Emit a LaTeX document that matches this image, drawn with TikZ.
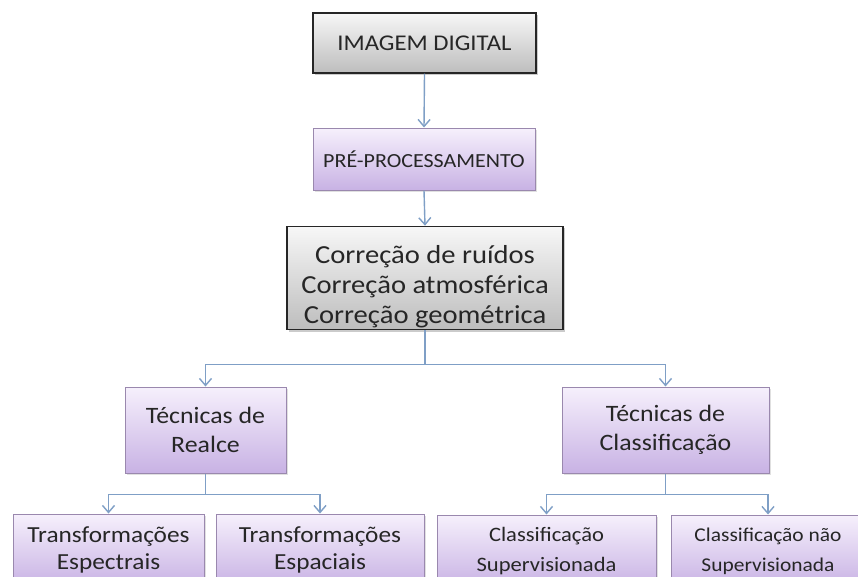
\documentclass[tikz,border=0pt]{standalone}
\usepackage{fontspec}
\setmainfont{Carlito}[FakeStretch=1.1]
\usetikzlibrary{arrows.meta,shadows,calc}
\definecolor{linec}{HTML}{7F9FC6}
\definecolor{txt}{HTML}{262626}
\definecolor{graytop}{HTML}{F7F7F7}
\definecolor{graybot}{HTML}{BDBDBD}
\definecolor{purptop}{HTML}{F6F0FC}
\definecolor{purpbot}{HTML}{C8B2E4}
\definecolor{purpline}{HTML}{9A88AE}
\tikzset{
  graybox/.style={draw=black!85, line width=1.2pt, top color=graytop, bottom color=graybot,
    text=txt, align=center, inner sep=2pt,
    drop shadow={shadow xshift=2pt, shadow yshift=-2pt, fill=black!40, opacity=0.5}},
  purpbox/.style={draw=purpline, line width=1pt, top color=purptop, bottom color=purpbot,
    text=txt, align=center, inner sep=2pt,
    drop shadow={shadow xshift=2pt, shadow yshift=-2pt, fill=black!30, opacity=0.4}},
  arr/.style={draw=linec, line width=1.4pt, -{Straight Barb[length=7pt,width=12pt,line width=1.4pt]}},
  lin/.style={draw=linec, line width=1.4pt}
}
\begin{document}
\begin{tikzpicture}[x=1pt,y=-1pt]
\useasboundingbox (0,0) rectangle (858,576);
\clip (0,0) rectangle (858,576);
\fill[white] (0,0) rectangle (858,576);
\node[graybox, minimum width=223pt, minimum height=60pt, font=\fontsize{22.5}{26}\selectfont] (img) at (424.5,43) {IMAGEM DIGITAL};
\node[purpbox, minimum width=222pt, minimum height=62pt, font=\fontsize{20}{23}\selectfont] (pre) at (424,159) {PRÉ-PROCESSAMENTO};
\node[graybox, minimum width=276pt, minimum height=100pt, font=\fontsize{26}{30}\selectfont] (cor) at (425,278) {\rule{0pt}{35pt}Correção de ruídos\\Correção atmosférica\\Correção geométrica};
\node[purpbox, minimum width=161pt, minimum height=86pt, font=\fontsize{23.5}{29}\selectfont] (real) at (205.5,430) {Técnicas de\\Realce};
\node[purpbox, minimum width=207pt, minimum height=86pt, font=\fontsize{23.5}{29}\selectfont] (cls) at (665.5,430) {Técnicas de\\Classificação};
\node[purpbox, minimum width=191pt, minimum height=72pt, font=\fontsize{23}{27}\selectfont] (esp) at (108.5,550) {Transformações\\Espectrais};
\node[purpbox, minimum width=208pt, minimum height=72pt, font=\fontsize{23}{27}\selectfont] (espa) at (320,550) {Transformações\\Espaciais};
\node[purpbox, minimum width=219pt, minimum height=72pt, font=\fontsize{20.5}{30}\selectfont] (sup) at (546.5,551) {Classificação\\Supervisionada};
\node[purpbox, minimum width=194pt, minimum height=72pt, font=\fontsize{19.5}{30}\selectfont] (nsup) at (768,551) {Classificação não\\Supervisionada};
\draw[arr] (img.south) -- (pre.north);
\draw[arr] (pre.south) -- (cor.north);
\coordinate (b1) at ($(cor.south)+(0,34)$);
\draw[lin] (cor.south) -- (b1);
\draw[arr] (b1) -| (real.north);
\draw[arr] (b1) -| (cls.north);
\coordinate (b2) at ($(real.south)+(0,21)$);
\draw[lin] (real.south) -- (b2);
\draw[arr] (b2) -| (esp.north);
\draw[arr] (b2) -| (espa.north);
\coordinate (b3) at ($(cls.south)+(0,21)$);
\draw[lin] (cls.south) -- (b3);
\draw[arr] (b3) -| (sup.north);
\draw[arr] (b3) -| (nsup.north);
\end{tikzpicture}
\end{document}
